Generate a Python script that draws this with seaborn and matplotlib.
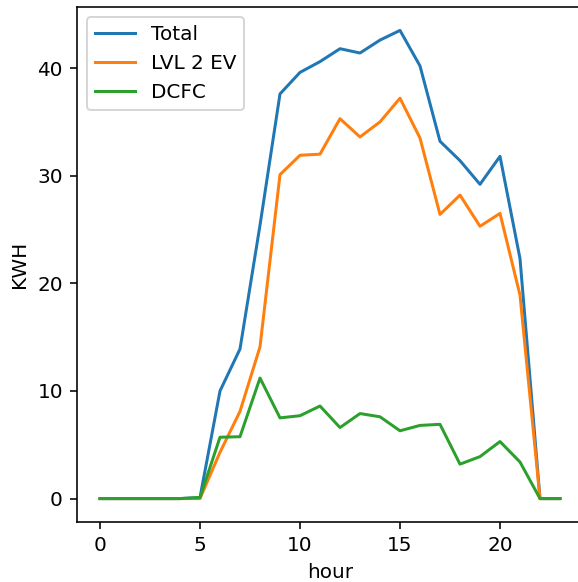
import numpy as np
import pandas as pd
import seaborn as sns
import matplotlib.pyplot as plt

hours = list(range(24))
total = [0, 0, 0, 0, 0, 0.1, 10.0, 13.9, 25.4, 37.6, 39.6, 40.6, 41.8, 41.4,
         42.6, 43.5, 40.2, 33.2, 31.4, 29.2, 31.8, 22.3, 0, 0]
lvl2 = [0, 0, 0, 0, 0, 0, 4.3, 8.1, 14.1, 30.1, 31.9, 32.0, 35.3, 33.6,
        35.0, 37.2, 33.5, 26.4, 28.2, 25.3, 26.5, 18.9, 0, 0]
dcfc = [0, 0, 0, 0, 0, 0.1, 5.7, 5.75, 11.2, 7.5, 7.7, 8.6, 6.6, 7.9,
        7.6, 6.3, 6.8, 6.9, 3.2, 3.9, 5.3, 3.4, 0, 0]

df = pd.DataFrame({'hour': hours, 'Total': total, 'LVL 2 EV': lvl2, 'DCFC': dcfc})

dpi = 144
W, H = 578, 582
fig = plt.figure(figsize=(W / dpi, H / dpi), dpi=dpi)
# the reference is a crop: the right spine sits just past the right edge
ax = fig.add_axes([77 / W, 60 / H, 506 / W, 515 / H])

for col in ['Total', 'LVL 2 EV', 'DCFC']:
    sns.lineplot(data=df, x='hour', y=col, label=col, ax=ax)

ax.set_xlim(-1.15, 24.15)
ax.spines['right'].set_visible(False)
ax.set_xlabel('hour')
ax.set_ylabel('KWH')
ax.set_xticks([0, 5, 10, 15, 20])
ax.set_yticks([0, 10, 20, 30, 40])
ax.legend(loc='upper left')

fig.savefig('out.png', dpi=dpi)
